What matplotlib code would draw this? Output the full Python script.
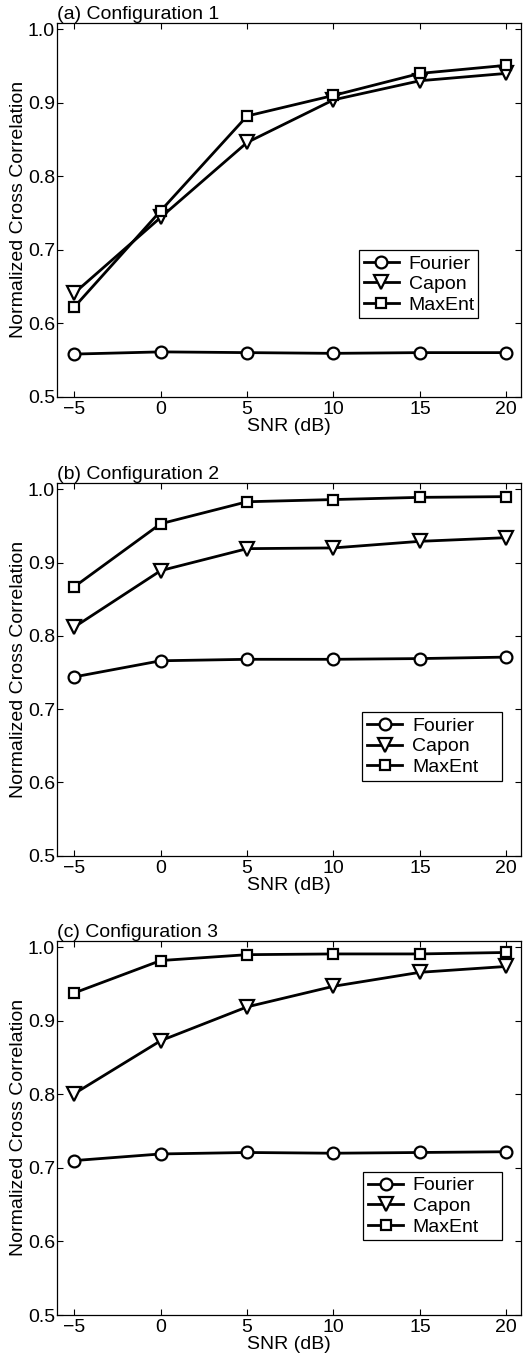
import matplotlib
matplotlib.use("Agg")
import matplotlib.pyplot as plt

plt.rcParams['font.family'] = ['Liberation Sans', 'DejaVu Sans']

snr = [-5, 0, 5, 10, 15, 20]

titles = ["(a) Configuration 1", "(b) Configuration 2", "(c) Configuration 3"]
series_names = ["Fourier", "Capon", "MaxEnt"]

fourier_1 = [0.558, 0.561, 0.560, 0.559, 0.560, 0.560]
capon_1 = [0.641, 0.744, 0.846, 0.904, 0.930, 0.940]
maxent_1 = [0.622, 0.753, 0.882, 0.910, 0.940, 0.951]

fourier_2 = [0.744, 0.766, 0.768, 0.768, 0.769, 0.771]
capon_2 = [0.812, 0.889, 0.919, 0.920, 0.929, 0.934]
maxent_2 = [0.867, 0.953, 0.983, 0.986, 0.989, 0.990]

fourier_3 = [0.710, 0.719, 0.721, 0.720, 0.721, 0.722]
capon_3 = [0.801, 0.873, 0.919, 0.947, 0.966, 0.974]
maxent_3 = [0.938, 0.982, 0.990, 0.991, 0.991, 0.993]

yticks = [0.5, 0.6, 0.7, 0.8, 0.9, 1.0]
ytick_labels = ["0.5", "0.6", "0.7", "0.8", "0.9", "1.0"]
xticks = [-5, 0, 5, 10, 15, 20]
xtick_labels = ["\u22125", "0", "5", "10", "15", "20"]

panels = [
    (fourier_1, capon_1, maxent_1),
    (fourier_2, capon_2, maxent_2),
    (fourier_3, capon_3, maxent_3),
]

W, H = 526, 1364
fig = plt.figure(figsize=(W / 100, H / 100), dpi=100)

left = 57 / W
width = (521 - 57) / W
# (top_px, bottom_px)
rects = [(22.7, 396.7), (482.7, 855.7), (940.7, 1315.0)]
legend_boxes = [(0.651, 0.392, 0.257), (0.658, 0.384, 0.302), (0.660, 0.382, 0.300)]

fs = 14
markers = ['o', 'v', 's']
msizes = [8.5, 9.5, 7.5]

for i, (top_px, bot_px) in enumerate(rects):
    ax = fig.add_axes([left, 1 - bot_px / H, width, (bot_px - top_px) / H])
    data = panels[i]
    for name, vals, mk, ms in zip(series_names, data, markers, msizes):
        ax.plot(snr, vals, color='black', linewidth=2.0, marker=mk,
                markersize=ms, markerfacecolor='white', markeredgecolor='black',
                markeredgewidth=1.6, label=name)
    ax.set_xlim(-6, 20.85)
    ax.set_ylim(0.5, 1.009)
    ax.set_xticks(xticks)
    ax.set_xticklabels(xtick_labels)
    ax.set_yticks(yticks)
    ax.set_yticklabels(ytick_labels)
    ax.tick_params(direction='in', top=True, right=True, length=4, width=0.8,
                   labelsize=fs, colors='black')
    ax.tick_params(axis='x', pad=3.0)
    ax.tick_params(axis='y', pad=1.5)
    for sp in ax.spines.values():
        sp.set_linewidth(0.9)
        sp.set_color('black')
    ax.set_xlabel("SNR (dB)", fontsize=fs, labelpad=0)
    ax.set_ylabel("Normalized Cross Correlation", fontsize=fs, labelpad=0.5)
    ax.set_title(titles[i], loc='left', fontsize=fs, pad=2.5)
    x0, ytop, w = legend_boxes[i]
    leg = ax.legend(loc='upper left', bbox_to_anchor=(x0, ytop - 0.2, w, 0.2),
                    mode='expand', fontsize=fs, frameon=True, fancybox=False,
                    edgecolor='black', framealpha=1, borderpad=0.25,
                    labelspacing=0.15, handlelength=1.8, handletextpad=0.5,
                    borderaxespad=0)
    leg.get_frame().set_linewidth(0.9)

fig.savefig("out.png", dpi=100)
